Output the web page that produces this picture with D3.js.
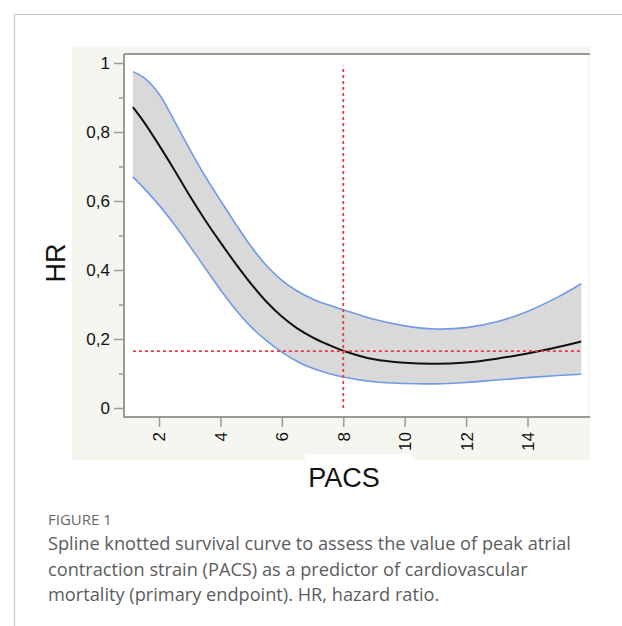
<!DOCTYPE html>
<html>
<head>
<meta charset="utf-8">
<script src="https://cdn.jsdelivr.net/npm/d3@7"></script>
<style>
html,body{margin:0;padding:0;background:#fff;}
svg{display:block;}
</style>
</head>
<body>
<svg id="chart" width="622" height="626"></svg>
<script>
// ---- data ----
const pacs   = [1.15, 1.5, 2, 2.5, 3, 3.5, 4, 4.5, 5, 5.5, 6, 6.5, 7, 7.5, 8, 9, 10, 11, 12, 13, 14, 15, 15.75];
const hr     = [0.872, 0.83, 0.762, 0.69, 0.615, 0.545, 0.48, 0.418, 0.36, 0.308, 0.265, 0.231, 0.205, 0.184, 0.166, 0.141, 0.131, 0.128, 0.132, 0.143, 0.158, 0.177, 0.193];
const upper  = [0.975, 0.958, 0.91, 0.832, 0.75, 0.672, 0.602, 0.533, 0.468, 0.413, 0.37, 0.339, 0.316, 0.299, 0.285, 0.257, 0.238, 0.229, 0.233, 0.25, 0.28, 0.322, 0.36];
const lower  = [0.67, 0.638, 0.588, 0.532, 0.47, 0.406, 0.343, 0.285, 0.235, 0.195, 0.162, 0.135, 0.115, 0.101, 0.09, 0.076, 0.071, 0.07, 0.074, 0.081, 0.088, 0.094, 0.098];
const xTicks = [2, 4, 6, 8, 10, 12, 14];
const yTicks = [0, 0.2, 0.4, 0.6, 0.8, 1];
const yTickLabels = ["0", "0,2", "0,4", "0,6", "0,8", "1"];
const yMinorTicks = [0.1, 0.3, 0.5, 0.7, 0.9];
const cutX = 8;
const cutY = 0.165;
const xTitle = "PACS";
const yTitle = "HR";
const figLabel = "FIGURE 1";
const captionLines = [
  "Spline knotted survival curve to assess the value of peak atrial",
  "contraction strain (PACS) as a predictor of cardiovascular",
  "mortality (primary endpoint). HR, hazard ratio."
];

const data = pacs.map((p, i) => ({x: p, y: hr[i], lo: lower[i], hi: upper[i]}));

const svg = d3.select("#chart");

// page frame
svg.append("line").attr("x1", 14).attr("x2", 622).attr("y1", 14.5).attr("y2", 14.5)
  .attr("stroke", "#c8c8c8").attr("stroke-width", 1.2);
svg.append("line").attr("x1", 14.5).attr("x2", 14.5).attr("y1", 14).attr("y2", 626)
  .attr("stroke", "#c8c8c8").attr("stroke-width", 1.2);

// figure panel background
svg.append("rect").attr("x", 72).attr("y", 47).attr("width", 518).attr("height", 413)
  .attr("fill", "#f6f6f1");

const pLeft = 124, pRight = 588, pTop = 54, pBottom = 417;
svg.append("rect").attr("x", pLeft).attr("y", pTop).attr("width", pRight - pLeft).attr("height", pBottom - pTop)
  .attr("fill", "#fff");

const x = d3.scaleLinear().domain([0.86, 15.97]).range([pLeft, pRight]);
const y = d3.scaleLinear().domain([0, 1]).range([408, 63]);

const g = svg.append("g");
const curve = d3.curveCatmullRom.alpha(0.5);

// band
g.append("path").datum(data)
  .attr("d", d3.area().x(d => x(d.x)).y0(d => y(d.lo)).y1(d => y(d.hi)).curve(curve))
  .attr("fill", "#d9d9d9");
g.append("path").datum(data)
  .attr("d", d3.line().x(d => x(d.x)).y(d => y(d.hi)).curve(curve))
  .attr("fill", "none").attr("stroke", "#6f9ae6").attr("stroke-width", 1.6);
g.append("path").datum(data)
  .attr("d", d3.line().x(d => x(d.x)).y(d => y(d.lo)).curve(curve))
  .attr("fill", "none").attr("stroke", "#6f9ae6").attr("stroke-width", 1.6);
g.append("path").datum(data)
  .attr("d", d3.line().x(d => x(d.x)).y(d => y(d.y)).curve(curve))
  .attr("fill", "none").attr("stroke", "#111").attr("stroke-width", 2);

// reference lines
g.append("line").attr("x1", x(pacs[0])).attr("x2", x(pacs[pacs.length - 1]))
  .attr("y1", y(cutY)).attr("y2", y(cutY))
  .attr("stroke", "#e83a48").attr("stroke-width", 1.8).attr("stroke-dasharray", "3,3");
g.append("line").attr("x1", x(cutX)).attr("x2", x(cutX))
  .attr("y1", y(0)).attr("y2", y(0.993))
  .attr("stroke", "#e83a48").attr("stroke-width", 1.8).attr("stroke-dasharray", "3,3");

// axes
const axisColor = "#9a9a9a";
const yAxis = svg.append("g").attr("transform", `translate(${pLeft},0)`)
  .call(d3.axisLeft(y).tickValues(yTicks).tickFormat((d, i) => yTickLabels[i]).tickSize(10).tickPadding(4));
const yMinor = svg.append("g").attr("transform", `translate(${pLeft},0)`)
  .call(d3.axisLeft(y).tickValues(yMinorTicks).tickFormat("").tickSize(5));
const xAxis = svg.append("g").attr("transform", `translate(0,${pBottom})`)
  .call(d3.axisBottom(x).tickValues(xTicks).tickSize(10).tickPadding(4));

[yAxis, yMinor, xAxis].forEach(a => {
  a.select(".domain").remove();
  a.selectAll(".tick line").attr("stroke", axisColor).attr("stroke-width", 1.5);
  a.selectAll("text").attr("font-family", "Liberation Sans, Arial, sans-serif")
    .attr("font-size", 17).attr("fill", "#111");
});
xAxis.selectAll("text")
  .attr("transform", "rotate(-90)")
  .attr("text-anchor", "end")
  .attr("dy", "0.35em")
  .attr("x", -15).attr("y", 0);

// frame lines
svg.append("line").attr("x1", pLeft).attr("x2", pLeft).attr("y1", pTop).attr("y2", pBottom + 1)
  .attr("stroke", axisColor).attr("stroke-width", 2);
svg.append("line").attr("x1", pLeft).attr("x2", 590).attr("y1", pBottom).attr("y2", pBottom)
  .attr("stroke", axisColor).attr("stroke-width", 2);
svg.append("line").attr("x1", pLeft).attr("x2", 590).attr("y1", pTop).attr("y2", pTop)
  .attr("stroke", axisColor).attr("stroke-width", 2);

// axis titles
svg.append("rect").attr("x", 305).attr("y", 454).attr("width", 107).attr("height", 8).attr("fill", "#fff");
svg.append("text").attr("x", 344).attr("y", 487).attr("text-anchor", "middle")
  .attr("font-family", "Liberation Sans, Arial, sans-serif").attr("font-size", 27).attr("fill", "#111")
  .text(xTitle);
svg.append("text").attr("transform", "translate(65,263) rotate(-90)").attr("text-anchor", "middle")
  .attr("font-family", "Liberation Sans, Arial, sans-serif").attr("font-size", 27).attr("fill", "#111")
  .text(yTitle);

// caption
svg.append("text").attr("x", 48).attr("y", 525)
  .attr("font-family", "Open Sans, sans-serif").attr("font-size", 15).attr("fill", "#666")
  .text(figLabel);
captionLines.forEach((t, i) => {
  svg.append("text").attr("x", 48).attr("y", 550 + i * 25.7)
    .attr("font-family", "Open Sans, sans-serif").attr("font-size", 18.2).attr("fill", "#5c5c5c")
    .text(t);
});
</script>
</body>
</html>
